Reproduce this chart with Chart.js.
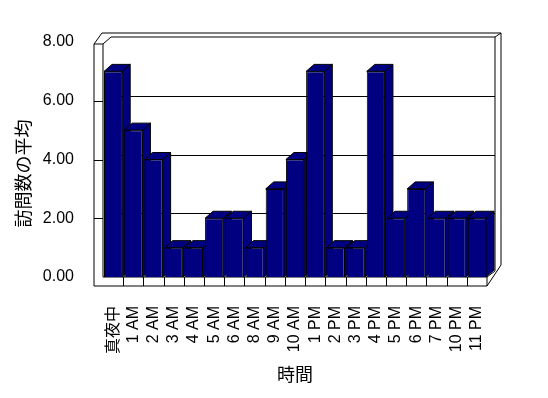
<!DOCTYPE html>
<html>
<head>
<meta charset="utf-8">
<script src="https://cdn.jsdelivr.net/npm/chart.js@4/dist/chart.umd.min.js"></script>
<style>
  html, body { margin: 0; padding: 0; background: #ffffff; }
  #wrap { position: relative; width: 548px; height: 398px; }
</style>
</head>
<body>
<div id="wrap"><canvas id="visitChart" width="548" height="398"></canvas></div>
<script>
    // ===================================
    // DATA
    // ===================================
    const hourLabels = [
        '真夜中', '1 AM', '2 AM', '3 AM', '4 AM', '5 AM', '6 AM', '8 AM', '9 AM', '10 AM',
        '1 PM', '2 PM', '3 PM', '4 PM', '5 PM', '6 PM', '7 PM', '10 PM', '11 PM'
    ];
    const avgVisits = [7, 5, 4, 1, 1, 2, 2, 1, 3, 4, 7, 1, 1, 7, 2, 3, 2, 2, 2];
    const yTicks = [0, 2, 4, 6, 8];

    const FONT = "'Liberation Sans', Arial, 'Noto Sans CJK JP', sans-serif";
    const NAVY = '#000080';

    // ===================================
    // 3D FRAME + BAR DEPTH (excel style)
    // ===================================
    const excel3d = {
        id: 'excel3d',
        beforeDatasetsDraw(chart) {
            const ctx = chart.ctx;
            const { left: L, right: R, top: T, bottom: B } = chart.chartArea;
            const y = chart.scales.y;
            ctx.save();
            ctx.lineWidth = 1;
            ctx.strokeStyle = '#000';
            ctx.fillStyle = '#fff';

            // outer contour of walls + floor
            ctx.beginPath();
            ctx.moveTo(L - 9, T + 2);
            ctx.lineTo(L - 1, T - 9);
            ctx.lineTo(R + 14, T - 9);
            ctx.lineTo(R + 14, B - 12);
            ctx.lineTo(R, B + 9);
            ctx.lineTo(L - 9, B + 9);
            ctx.closePath();
            ctx.fill();
            ctx.stroke();

            ctx.beginPath();
            // left wall inner edge
            ctx.moveTo(L, T + 2); ctx.lineTo(L, B);
            ctx.moveTo(L - 9, T + 2); ctx.lineTo(L, T + 2);
            ctx.lineTo(L + 8, T - 5);
            // back wall
            ctx.lineTo(R + 8, T - 5);
            ctx.lineTo(R + 8, B - 6);
            ctx.moveTo(R + 8, T - 5); ctx.lineTo(R + 14, T - 9);
            // floor
            ctx.moveTo(L, B); ctx.lineTo(R, B);
            ctx.lineTo(R + 8, B - 6);
            ctx.moveTo(R, B); ctx.lineTo(R, B + 9);
            ctx.stroke();

            // gridlines on back wall and tick marks on left wall face
            ctx.beginPath();
            yTicks.forEach(v => {
                if (v === 0 || v === yTicks[yTicks.length - 1]) return;
                const py = Math.round(y.getPixelForValue(v)) + 0.5;
                ctx.moveTo(L + 8, py - 5); ctx.lineTo(R + 8, py - 5);
                ctx.moveTo(L - 9, py); ctx.lineTo(L, py);
            });
            // category dividers on floor front
            const step = (R - L) / hourLabels.length;
            for (let i = 1; i < hourLabels.length; i++) {
                const px = Math.round(L + step * i) + 0.5;
                ctx.moveTo(px, B); ctx.lineTo(px, B + 9);
            }
            ctx.stroke();

            // side + top faces of bars
            const meta = chart.getDatasetMeta(0);
            const dx = 8, dy = -7;
            ctx.fillStyle = NAVY;
            meta.data.forEach(bar => {
                const { x: cx, y: top, base, width } = bar.getProps(['x', 'y', 'base', 'width'], true);
                const x1 = cx - width / 2, x2 = cx + width / 2;
                ctx.beginPath();
                ctx.moveTo(x2, base);
                ctx.lineTo(x2, top);
                ctx.lineTo(x2 + dx, top + dy);
                ctx.lineTo(x2 + dx, base + dy);
                ctx.closePath();
                ctx.fill(); ctx.stroke();
                ctx.beginPath();
                ctx.moveTo(x1, top);
                ctx.lineTo(x1 + dx, top + dy);
                ctx.lineTo(x2 + dx, top + dy);
                ctx.lineTo(x2, top);
                ctx.closePath();
                ctx.fill(); ctx.stroke();
            });
            ctx.restore();
        }
    };

    // ===================================
    // CHART CONFIG
    // ===================================
    const visitConfig = {
        type: 'bar',
        data: {
            labels: hourLabels,
            datasets: [{
                label: '訪問数の平均',
                data: avgVisits,
                backgroundColor: NAVY,
                borderColor: '#000',
                borderWidth: 1,
                barPercentage: 0.9,
                categoryPercentage: 1.0
            }]
        },
        options: {
            responsive: false,
            animation: false,
            events: [],
            layout: { padding: { top: 42, right: 61, left: 0, bottom: 0 } },
            plugins: {
                legend: { display: false },
                tooltip: { enabled: false }
            },
            scales: {
                x: {
                    grid: { display: false },
                    border: { display: false },
                    ticks: {
                        autoSkip: false,
                        maxRotation: 90,
                        minRotation: 90,
                        padding: 21,
                        color: '#000',
                        font: { family: FONT, size: 16 }
                    },
                    title: {
                        display: true,
                        text: '時間',
                        color: '#000',
                        padding: { top: 0, bottom: 11 },
                        font: { family: FONT, size: 18 }
                    },
                    afterFit: s => { s.height = 121; }
                },
                y: {
                    min: 0,
                    max: 8,
                    grid: { display: false },
                    border: { display: false },
                    ticks: {
                        stepSize: 2,
                        padding: 21,
                        color: '#000',
                        font: { family: FONT, size: 16 },
                        callback: v => v.toFixed(2)
                    },
                    title: {
                        display: true,
                        text: '訪問数の平均',
                        color: '#000',
                        padding: { top: 14, bottom: 0 },
                        font: { family: FONT, size: 18 }
                    },
                    afterFit: s => { s.width = 103; }
                }
            }
        },
        plugins: [excel3d]
    };

    // --- Render Chart ---
    const ctxVisit = document.getElementById('visitChart').getContext('2d');
    const visitChart = new Chart(ctxVisit, visitConfig);

    // the y title sits a bit lower in the original (centred on wall + floor)
    const yScale = visitChart.scales.y;
    const origDrawTitle = yScale.drawTitle.bind(yScale);
    yScale.drawTitle = function () {
        ctxVisit.save();
        ctxVisit.translate(0, 14);
        origDrawTitle();
        ctxVisit.restore();
    };
    visitChart.draw();
</script>
</body>
</html>
